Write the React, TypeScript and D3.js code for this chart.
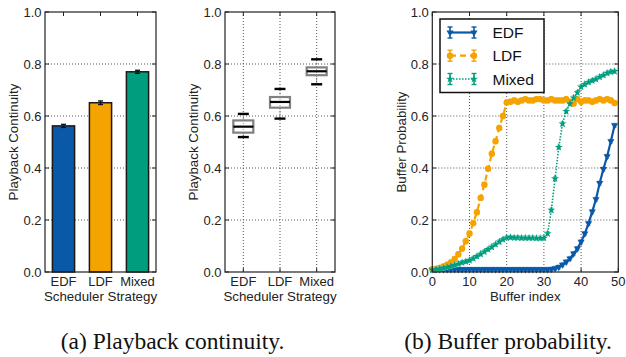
import React from "react";
import * as d3 from "d3";

// ---------------- data ----------------
const categories = ["EDF", "LDF", "Mixed"];
const barMeans = [0.562, 0.651, 0.77];
const barErrors = [0.006, 0.007, 0.006];

const boxLow = [0.519, 0.59, 0.722];
const boxQ1 = [0.536, 0.632, 0.757];
const boxMedian = [0.559, 0.654, 0.772];
const boxQ3 = [0.583, 0.673, 0.787];
const boxHigh = [0.608, 0.704, 0.818];

const yTicks = [0, 0.2, 0.4, 0.6, 0.8, 1.0];
const bufferTicks = [0, 10, 20, 30, 40, 50];

const bufferIndex = [
  0, 1, 2, 3, 4, 5, 6, 7, 8, 9, 10, 11, 12, 13, 14, 15, 16, 17, 18, 19, 20, 21, 22, 23, 24,
  25, 26, 27, 28, 29, 30, 31, 32, 33, 34, 35, 36, 37, 38, 39, 40, 41, 42, 43, 44, 45, 46, 47, 48, 49,
];
const edfProb = [
  0.01, 0.01, 0.01, 0.01, 0.01, 0.01, 0.01, 0.01, 0.01, 0.01, 0.01, 0.01, 0.01, 0.01, 0.01, 0.01,
  0.01, 0.01, 0.01, 0.01, 0.01, 0.01, 0.01, 0.01, 0.01, 0.01, 0.01, 0.01, 0.01, 0.01, 0.01, 0.01,
  0.011, 0.014, 0.019, 0.028, 0.039, 0.052, 0.071, 0.09, 0.116, 0.148, 0.187, 0.232, 0.28, 0.342,
  0.396, 0.445, 0.503, 0.564,
];
const ldfProb = [
  0.01, 0.012, 0.016, 0.021, 0.028, 0.037, 0.05, 0.068, 0.09, 0.118, 0.148, 0.188, 0.23, 0.285,
  0.336, 0.397, 0.455, 0.503, 0.554, 0.6, 0.652, 0.655, 0.66, 0.655, 0.66, 0.665, 0.66, 0.66, 0.665,
  0.665, 0.66, 0.66, 0.665, 0.66, 0.66, 0.66, 0.665, 0.655, 0.648, 0.665, 0.655, 0.66, 0.66, 0.655,
  0.66, 0.665, 0.66, 0.665, 0.66, 0.65,
];
const mixedProb = [
  0.008, 0.01, 0.012, 0.015, 0.018, 0.022, 0.026, 0.031, 0.036, 0.04, 0.045, 0.052, 0.06, 0.069,
  0.078, 0.087, 0.096, 0.106, 0.116, 0.125, 0.132, 0.133, 0.132, 0.132, 0.131, 0.131, 0.131, 0.131,
  0.13, 0.13, 0.131, 0.148, 0.238, 0.359, 0.48, 0.57, 0.618, 0.647, 0.67, 0.69, 0.712, 0.722, 0.73,
  0.736, 0.742, 0.75, 0.757, 0.765, 0.77, 0.772,
];
const seriesErrors = [0.008, 0.01, 0.008];

// ---------------- style ----------------
const COLORS = ["#0a58a8", "#f4a300", "#009e7f"];
const LIGHT = ["#7fa9d6", "#f9cf78", "#6fcbb5"];
const SANS = "\"Liberation Sans\", Arial, sans-serif";
const SERIF = "\"Liberation Serif\", \"Times New Roman\", serif";
const TOP = 12;
const BOTTOM = 272;

const yScale = d3.scaleLinear().domain([0, 1]).range([BOTTOM, TOP]);

type FrameProps = {
  left: number;
  right: number;
  xTickPos: number[];
  xTickLabels: string[];
  vGrid: number[];
  yLabel: string;
  yLabelX: number;
  xLabel: string;
};

const sansStyle = (size: number) => ({ fontFamily: SANS, fontSize: size + "px" });

function Frame({ left, right, xTickPos, xTickLabels, vGrid, yLabel, yLabelX, xLabel }: FrameProps) {
  const cx = (left + right) / 2;
  const cy = (TOP + BOTTOM) / 2;
  return (
    <g>
      {yTicks.slice(1, -1).map((t) => (
        <line key={"hg" + t} x1={left} x2={right} y1={yScale(t)} y2={yScale(t)}
          stroke="#555" strokeWidth={1} strokeDasharray="1,2" />
      ))}
      {vGrid.map((x, i) => (
        <line key={"vg" + i} x1={x} x2={x} y1={TOP} y2={BOTTOM}
          stroke="#555" strokeWidth={1} strokeDasharray="1,2" />
      ))}
      {yTicks.map((t) => (
        <g key={"yt" + t}>
          <line x1={left} x2={left + 4} y1={yScale(t)} y2={yScale(t)} stroke="#222" />
          <line x1={right} x2={right - 4} y1={yScale(t)} y2={yScale(t)} stroke="#222" />
          <text x={left - 3.5} y={yScale(t)} dy="0.36em" textAnchor="end"
            style={sansStyle(13)} fill="#222">{t.toFixed(1)}</text>
        </g>
      ))}
      {xTickPos.map((x, i) => (
        <g key={"xt" + i}>
          <line x1={x} x2={x} y1={BOTTOM} y2={BOTTOM - 4} stroke="#222" />
          <line x1={x} x2={x} y1={TOP} y2={TOP + 4} stroke="#222" />
          <text x={x} y={285.5} textAnchor="middle" style={sansStyle(13)} fill="#222">
            {xTickLabels[i]}
          </text>
        </g>
      ))}
      <text x={cx} y={300.5} textAnchor="middle" style={sansStyle(13.3)} fill="#222">
        {xLabel}
      </text>
      <text transform={`translate(${yLabelX},${cy}) rotate(-90)`} textAnchor="middle"
        style={sansStyle(13.3)} fill="#222">{yLabel}</text>
    </g>
  );
}

function Border({ left, right }: { left: number; right: number }) {
  return <rect x={left} y={TOP} width={right - left} height={BOTTOM - TOP} fill="none" stroke="#222" strokeWidth={1.2} />;
}

function Marker({ i, x, y }: { i: number; x: number; y: number }) {
  if (i === 1) return <circle cx={x} cy={y} r={3.2} fill={COLORS[1]} />;
  if (i === 0) {
    const p = d3.symbol().type(d3.symbolTriangle).size(22)();
    return <path d={p || ""} transform={`translate(${x},${y}) rotate(180)`} fill={COLORS[0]} />;
  }
  const p = d3.symbol().type(d3.symbolStar).size(20)();
  return <path d={p || ""} transform={`translate(${x},${y})`} fill={COLORS[2]} />;
}

export default function App() {
  const p1L = 45, p1R = 156;
  const band = d3.scaleBand().domain(categories).range([p1L, p1R]).paddingInner(0.4).paddingOuter(0.2);
  const p2L = 225, p2R = 335;
  const pts = d3.scalePoint().domain(categories).range([p2L, p2R]).padding(0.5);
  const p3L = 432.3, p3R = 618.3;
  const xB = d3.scaleLinear().domain([0, 50]).range([p3L, p3R]);

  const series = [edfProb, ldfProb, mixedProb];
  const dashes = ["", "6,4", "1.5,1.5"];
  const widths = [2.2, 2.2, 1.6];
  const lineGen = d3.line<number>().x((_, j) => xB(bufferIndex[j])).y((d) => yScale(d));

  const legendY = [32.5, 55.7, 79];

  return (
    <svg width={626} height={357} style={{ position: "absolute", left: 0, top: 0, background: "#fff" }}>
      <rect x={0} y={0} width={626} height={357} fill="#fff" />

      {/* ---------- Panel 1 ---------- */}
      <Frame left={p1L} right={p1R}
        xTickPos={categories.map((c) => (band(c) as number) + band.bandwidth() / 2)}
        xTickLabels={categories} vGrid={[]} yLabel="Playback Continuity" yLabelX={17.8}
        xLabel="Scheduler Strategy" />
      {categories.map((c, i) => {
        const x = band(c) as number;
        const cxb = x + band.bandwidth() / 2;
        return (
          <g key={"bar" + c}>
            <rect x={x} y={yScale(barMeans[i])} width={band.bandwidth()} height={BOTTOM - yScale(barMeans[i])}
              fill={COLORS[i]} stroke="#1a1a1a" strokeWidth={1.5} />
            <line x1={cxb} x2={cxb} y1={yScale(barMeans[i] - barErrors[i])} y2={yScale(barMeans[i] + barErrors[i])}
              stroke="#111" strokeWidth={1.5} />
            <line x1={cxb - 2.5} x2={cxb + 2.5} y1={yScale(barMeans[i] - barErrors[i])} y2={yScale(barMeans[i] - barErrors[i])}
              stroke="#111" strokeWidth={1.3} />
            <line x1={cxb - 2.5} x2={cxb + 2.5} y1={yScale(barMeans[i] + barErrors[i])} y2={yScale(barMeans[i] + barErrors[i])}
              stroke="#111" strokeWidth={1.3} />
          </g>
        );
      })}
      <Border left={p1L} right={p1R} />

      {/* ---------- Panel 2 ---------- */}
      <Frame left={p2L} right={p2R}
        xTickPos={categories.map((c) => pts(c) as number)}
        xTickLabels={categories} vGrid={categories.map((c) => pts(c) as number)}
        yLabel="Playback Continuity" yLabelX={197.8} xLabel="Scheduler Strategy" />
      {categories.map((c, i) => {
        const x = pts(c) as number;
        const bw = 20, cw = 11;
        return (
          <g key={"box" + c}>
            <line x1={x} x2={x} y1={yScale(boxHigh[i])} y2={yScale(boxQ3[i])} stroke="#888" strokeWidth={1} strokeDasharray="2,1.5" />
            <line x1={x} x2={x} y1={yScale(boxQ1[i])} y2={yScale(boxLow[i])} stroke="#888" strokeWidth={1} strokeDasharray="2,1.5" />
            <rect x={x - bw / 2} y={yScale(boxQ3[i])} width={bw} height={yScale(boxQ1[i]) - yScale(boxQ3[i])}
              fill="#fff" fillOpacity={0.4} stroke="#808080" strokeWidth={2.2} />
            <line x1={x - bw / 2} x2={x + bw / 2} y1={yScale(boxMedian[i])} y2={yScale(boxMedian[i])} stroke="#000" strokeWidth={2.2} />
            <line x1={x - cw / 2} x2={x + cw / 2} y1={yScale(boxHigh[i])} y2={yScale(boxHigh[i])} stroke="#000" strokeWidth={2.4} />
            <line x1={x - cw / 2} x2={x + cw / 2} y1={yScale(boxLow[i])} y2={yScale(boxLow[i])} stroke="#000" strokeWidth={2.4} />
          </g>
        );
      })}
      <Border left={p2L} right={p2R} />

      {/* ---------- Panel 3 ---------- */}
      <Frame left={p3L} right={p3R}
        xTickPos={bufferTicks.map((t) => xB(t))}
        xTickLabels={bufferTicks.map(String)} vGrid={bufferTicks.slice(1, -1).map((t) => xB(t))}
        yLabel="Buffer Probability" yLabelX={405.5} xLabel="Buffer index" />
      {series.map((s, i) => (
        <g key={"series" + i}>
          {s.map((v, j) => {
            const x = xB(bufferIndex[j]);
            const e = seriesErrors[i];
            return (
              <g key={j}>
                <line x1={x} x2={x} y1={yScale(v - e)} y2={yScale(v + e)} stroke={LIGHT[i]} strokeWidth={1.2} />
                <line x1={x - 2} x2={x + 2} y1={yScale(v - e)} y2={yScale(v - e)} stroke={LIGHT[i]} strokeWidth={1} />
                <line x1={x - 2} x2={x + 2} y1={yScale(v + e)} y2={yScale(v + e)} stroke={LIGHT[i]} strokeWidth={1} />
              </g>
            );
          })}
          <path d={lineGen(s) || ""} fill="none" stroke={COLORS[i]} strokeWidth={widths[i]}
            strokeDasharray={dashes[i] || undefined} />
          {s.map((v, j) => (
            <Marker key={"m" + j} i={i} x={xB(bufferIndex[j])} y={yScale(v)} />
          ))}
        </g>
      ))}
      <Border left={p3L} right={p3R} />

      {/* legend */}
      <rect x={440} y={19} width={104} height={73.5} fill="#fff" stroke="#111" strokeWidth={1.5} />
      {categories.map((c, i) => {
        const y = legendY[i];
        const xa = 450, xb = 474;
        return (
          <g key={"leg" + c}>
            <line x1={xa} x2={xb} y1={y} y2={y} stroke={COLORS[i]} strokeWidth={widths[i]}
              strokeDasharray={dashes[i] || undefined} />
            {[xa, xb].map((x) => (
              <g key={x}>
                <line x1={x} x2={x} y1={y - 5.5} y2={y + 5.5} stroke={COLORS[i]} strokeWidth={1.6} />
                <line x1={x - 2.5} x2={x + 2.5} y1={y - 5.5} y2={y - 5.5} stroke={COLORS[i]} strokeWidth={1.4} />
                <line x1={x - 2.5} x2={x + 2.5} y1={y + 5.5} y2={y + 5.5} stroke={COLORS[i]} strokeWidth={1.4} />
                <Marker i={i} x={x} y={y} />
              </g>
            ))}
            <text x={492.5} y={y} dy="0.36em" style={sansStyle(15.5)} fill="#111">{c}</text>
          </g>
        );
      })}

      {/* captions */}
      <text x={172.5} y={349} textAnchor="middle" style={{ fontFamily: SERIF, fontSize: "23.5px" }} fill="#111">
        (a) Playback continuity.
      </text>
      <text x={508} y={349} textAnchor="middle" style={{ fontFamily: SERIF, fontSize: "23.5px" }} fill="#111">
        (b) Buffer probability.
      </text>
    </svg>
  );
}
